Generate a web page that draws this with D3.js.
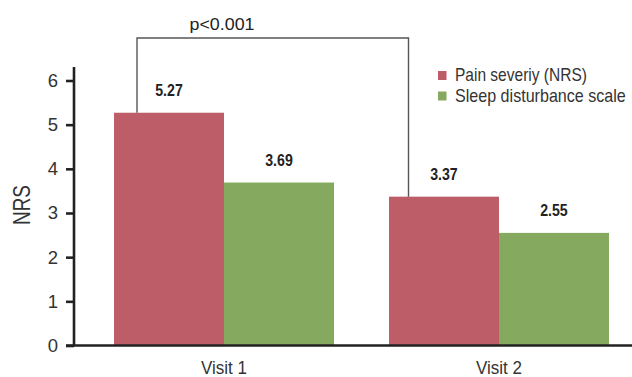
<!DOCTYPE html>
<html>
<head>
<meta charset="utf-8">
<script src="https://cdn.jsdelivr.net/npm/d3@7"></script>
<style>
  html, body { margin: 0; padding: 0; background: #fff; }
  svg { display: block; }
  text { font-family: "Liberation Sans", Arial, sans-serif; }
</style>
</head>
<body>
<svg id="chart" width="632" height="377"></svg>
<script>
// Visits and the two measured scales
const visits = ["Visit 1", "Visit 2"];
const seriesNames = ["Pain severiy (NRS)", "Sleep disturbance scale"];
const painValues = [5.27, 3.37];
const sleepValues = [3.69, 2.55];
const seriesColors = ["#BC5D68", "#85AA5F"];
const yTicks = [0, 1, 2, 3, 4, 5, 6];
const pLabel = "p<0.001";

const svg = d3.select("#chart");

// Condensed typeface look: set each text's advance width explicitly
function fitWidth(sel, width) {
  sel.attr("textLength", width).attr("lengthAdjust", "spacingAndGlyphs");
}

const x0 = d3.scaleBand()
  .domain(visits)
  .range([74, 649])
  .paddingInner(0.2)
  .paddingOuter(0.1455);

const x1 = d3.scaleBand()
  .domain(seriesNames)
  .range([0, x0.bandwidth()]);

const y = d3.scaleLinear()
  .domain([0, 6])
  .range([345.5, 80.5]);

const rows = visits.map((v, i) => ({
  visit: v,
  values: [
    { name: seriesNames[0], value: painValues[i], color: seriesColors[0] },
    { name: seriesNames[1], value: sleepValues[i], color: seriesColors[1] }
  ]
}));

// Bars
const groups = svg.append("g").selectAll("g")
  .data(rows).join("g")
  .attr("transform", d => `translate(${x0(d.visit)},0)`);

groups.selectAll("rect")
  .data(d => d.values).join("rect")
  .attr("x", d => x1(d.name))
  .attr("y", d => y(d.value))
  .attr("width", x1.bandwidth())
  .attr("height", d => y(0) - y(d.value))
  .attr("fill", d => d.color);

// Value labels
const valueLabels = groups.selectAll("text")
  .data(d => d.values).join("text")
  .attr("x", d => x1(d.name) + x1.bandwidth() / 2)
  .attr("y", d => y(d.value) - 17)
  .attr("text-anchor", "middle")
  .attr("font-size", 16.5)
  .attr("font-weight", "bold")
  .attr("fill", "#222")
  .text(d => d.value.toFixed(2));
fitWidth(valueLabels, 27.5);

// Y axis
const yAxis = svg.append("g")
  .attr("transform", "translate(74,0)")
  .call(d3.axisLeft(y).tickValues(yTicks).tickFormat(d3.format("d")).tickSize(8).tickPadding(8).tickSizeOuter(0));
yAxis.select(".domain").attr("stroke", "#222").attr("stroke-width", 2.6)
  .attr("d", `M0,${y(0)}V67`);
yAxis.selectAll(".tick line").attr("stroke", "#222").attr("stroke-width", 2.6);
yAxis.selectAll(".tick text").attr("font-size", 18.5).attr("fill", "#333")
  .style("font-family", '"Liberation Sans", Arial, sans-serif');

// X axis
const xAxis = svg.append("g")
  .attr("transform", `translate(0,${y(0)})`)
  .call(d3.axisBottom(x0).tickSize(0).tickPadding(12));
xAxis.select(".domain").attr("stroke", "#222").attr("stroke-width", 2.6)
  .attr("d", "M66,0H632");
const xLabels = xAxis.selectAll(".tick text").attr("font-size", 17.5).attr("fill", "#333")
  .style("font-family", '"Liberation Sans", Arial, sans-serif')
  .attr("dy", null).attr("y", 28.5);
fitWidth(xLabels, 46);

// Y axis title
const yTitle = svg.append("text")
  .attr("transform", "translate(30,205) rotate(-90)")
  .attr("text-anchor", "middle")
  .attr("font-size", 24)
  .attr("fill", "#333")
  .text("NRS");
fitWidth(yTitle, 40);

// Significance bracket between the two pain bars
const leftX = x0(visits[0]) + x1(seriesNames[0]) + 23;
const rightX = x0(visits[1]) + x1(seriesNames[0]) + 19.5;
const bracketY = 38;
svg.append("path")
  .attr("d", `M${leftX},${y(painValues[0])}V${bracketY}H${rightX}V${y(painValues[1])}`)
  .attr("fill", "none")
  .attr("stroke", "#555")
  .attr("stroke-width", 1.4);

const pText = svg.append("text")
  .attr("x", 222)
  .attr("y", 30)
  .attr("text-anchor", "middle")
  .attr("font-size", 16.5)
  .attr("fill", "#222")
  .text(pLabel);
fitWidth(pText, 65);

// Legend: entries are squeezed horizontally with a scale transform
const legendWidths = [132, 171];
const legend = svg.append("g").attr("transform", "translate(438,67)");
const items = legend.selectAll("g")
  .data(seriesNames).join("g")
  .attr("transform", (d, i) => `translate(0,${i * 20.5})`);
items.append("rect")
  .attr("x", 0).attr("y", 4)
  .attr("width", 8.5).attr("height", 9)
  .attr("fill", (d, i) => seriesColors[i]);
items.append("text")
  .attr("x", 0).attr("y", 0)
  .attr("font-size", 17.5)
  .attr("fill", "#333")
  .text(d => d)
  .each(function (d, i) {
    const natural = this.getComputedTextLength();
    const sx = legendWidths[i] / natural;
    d3.select(this).attr("transform", `translate(17,14) scale(${sx},1)`);
  });
</script>
</body>
</html>
